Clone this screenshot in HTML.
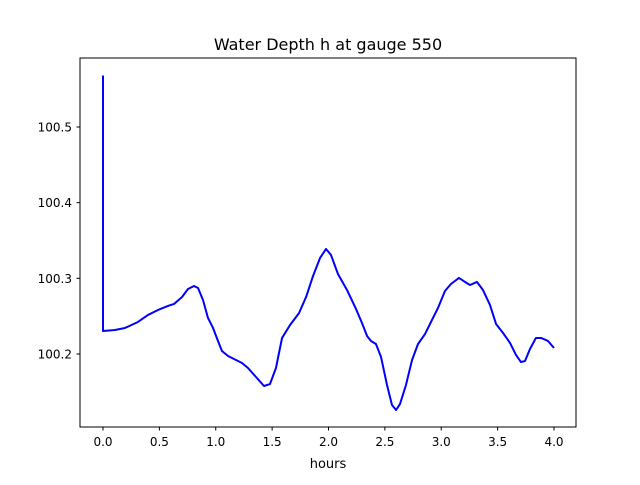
<!DOCTYPE html>
<html><head><meta charset="utf-8"><style>
body{margin:0;background:#fff;font-family:"Liberation Sans","DejaVu Sans",sans-serif;}
text{font-family:"DejaVu Sans","Liberation Sans",sans-serif;}
</style></head><body>
<svg id="chart" width="640" height="480" viewBox="0 0 640 480">
<rect width="640" height="480" fill="#fff"/>
<text x="328" y="50" text-anchor="middle" font-size="16">Water Depth h at gauge 550</text>
<g id="xt"></g>
<g id="yt"></g>
<path id="line" fill="none" stroke="#0000ff" stroke-width="2" stroke-linejoin="round"/>
<rect x="80" y="58" width="496" height="369" fill="none" stroke="#000" stroke-width="1"/>
<text x="328" y="468" text-anchor="middle" font-size="13">hours</text>
</svg>
<script>
const hours=[0,0,0.106,0.195,0.310,0.399,0.488,0.576,0.630,0.701,0.754,0.807,0.843,0.887,0.931,0.976,1.020,1.055,1.109,1.180,1.233,1.286,1.357,1.428,1.481,1.534,1.588,1.659,1.739,1.801,1.863,1.925,1.978,2.022,2.084,2.164,2.244,2.297,2.342,2.377,2.421,2.466,2.519,2.563,2.599,2.634,2.687,2.741,2.794,2.856,2.918,2.971,3.033,3.086,3.157,3.211,3.255,3.317,3.370,3.432,3.486,3.548,3.610,3.663,3.707,3.743,3.787,3.840,3.885,3.947,4.0];
const depth=[100.568,100.2304,100.2317,100.2344,100.2423,100.2516,100.2582,100.2635,100.2661,100.2753,100.2859,100.2899,100.2872,100.2714,100.2476,100.2344,100.2172,100.2040,100.1974,100.1921,100.1881,100.1815,100.1696,100.1577,100.1603,100.1815,100.2212,100.2383,100.2542,100.2753,100.3031,100.3269,100.3388,100.3309,100.3057,100.2846,100.2595,100.2410,100.2238,100.2172,100.2132,100.1960,100.1590,100.1326,100.1260,100.1339,100.1590,100.1921,100.2132,100.2264,100.2450,100.2608,100.2833,100.2925,100.3005,100.2952,100.2912,100.2952,100.2846,100.2648,100.2397,100.2278,100.2146,100.1987,100.1894,100.1907,100.2066,100.2212,100.2212,100.2172,100.2079];
const xTicks=[0,0.5,1,1.5,2,2.5,3,3.5,4];
const xTickLabels=["0.0","0.5","1.0","1.5","2.0","2.5","3.0","3.5","4.0"];
const yTicks=[100.2,100.3,100.4,100.5];
const yTickLabels=["100.2","100.3","100.4","100.5"];
const X=h=>103+h*112.75;
const Y=v=>354-(v-100.2)*756.7;
const NS="http://www.w3.org/2000/svg";
const line=document.getElementById('line');
line.setAttribute('d',hours.map((h,i)=>(i?'L':'M')+X(h).toFixed(2)+' '+Y(depth[i]).toFixed(2)).join(' '));
const xt=document.getElementById('xt'),yt=document.getElementById('yt');
xTicks.forEach((t,i)=>{
 const l=document.createElementNS(NS,'line');
 
 
 l.setAttribute('x1',X(t));l.setAttribute('x2',X(t));l.setAttribute('y1',427);l.setAttribute('y2',430.5);l.setAttribute('stroke','#000');
 xt.appendChild(l);
 const tx=document.createElementNS(NS,'text');
 
 
 tx.setAttribute('x',X(t));tx.setAttribute('y',446);tx.setAttribute('text-anchor','middle');tx.setAttribute('font-size','12');
 tx.textContent=xTickLabels[i];xt.appendChild(tx);
});
yTicks.forEach((t,i)=>{
 const l=document.createElementNS(NS,'line');
 
 
 l.setAttribute('x1',76.5);l.setAttribute('x2',80);l.setAttribute('y1',Y(t));l.setAttribute('y2',Y(t));l.setAttribute('stroke','#000');
 yt.appendChild(l);
 const tx=document.createElementNS(NS,'text');
 
 
 tx.setAttribute('x',72);tx.setAttribute('y',Y(t)+4.5);tx.setAttribute('text-anchor','end');tx.setAttribute('font-size','12');
 tx.textContent=yTickLabels[i];yt.appendChild(tx);
});
</script>
</body></html>
